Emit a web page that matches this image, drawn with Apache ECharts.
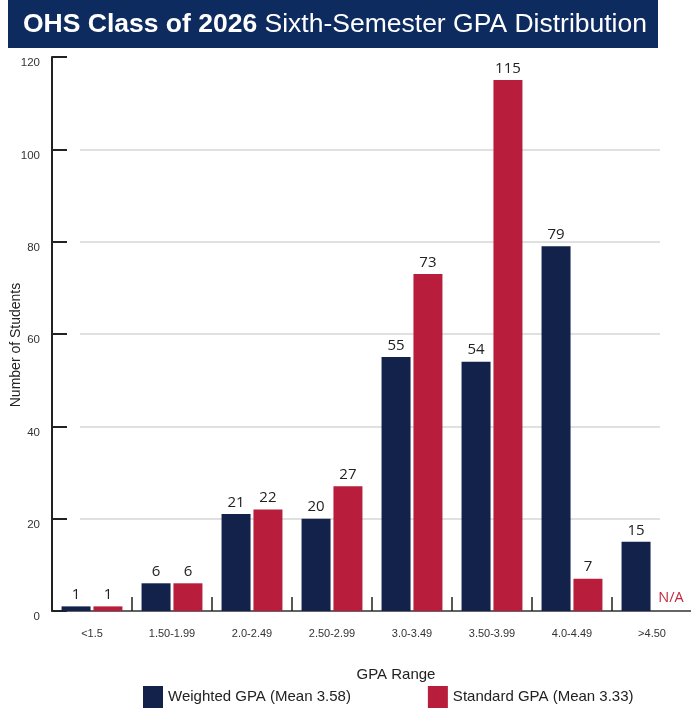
<!DOCTYPE html>
<html lang="en">
<head>
    <meta charset="UTF-8">
    <title>OHS Class of 2026 GPA</title>
    <script src="https://cdn.jsdelivr.net/npm/echarts@6/dist/echarts.min.js"></script>
    <style>
        html, body { margin: 0; padding: 0; background: #fff; }
    </style>
</head>
<body>
<div id="chart" style="width: 691px;height:708px"></div>
<script>
    var chartDom = document.getElementById('chart');
    var myChart = echarts.init(chartDom);

    var categories = ['<1.5', '1.50-1.99', '2.0-2.49', '2.50-2.99', '3.0-3.49', '3.50-3.99', '4.0-4.49', '>4.50'];
    var weighted = [1, 6, 21, 20, 55, 54, 79, 15];
    var standard = [1, 6, 22, 27, 73, 115, 7, 'N/A'];
    var seriesNames = ['Weighted GPA (Mean 3.58)', 'Standard GPA (Mean 3.33)'];
    var colors = ['#13224b', '#b81e3c'];
    var font = 'Liberation Sans, Arial, sans-serif';

    // N/A gets a zero bar with a red text label
    var standardData = standard.map(function (v) {
        if (v === 'N/A') {
            return {
                value: 0,
                label: { formatter: 'N/A', color: '#c0283c', fontSize: 14.5, distance: 6, offset: [3, 0] }
            };
        }
        return v;
    });

    var option = {
        backgroundColor: '#ffffff',
        animation: false,
        graphic: [{
            type: 'rect',
            shape: { x: 8, y: 0, width: 650, height: 48 },
            style: { fill: '#0e2b5f' }
        }],
        title: {
            text: '{b|OHS Class of 2026} Sixth-Semester GPA Distribution',
            left: 23,
            top: 11,
            padding: 0,
            textStyle: {
                color: '#ffffff',
                fontSize: 26.5,
                fontWeight: 'normal',
                fontFamily: font,
                rich: {
                    b: { color: '#ffffff', fontSize: 26.5, fontWeight: 'bold', fontFamily: font }
                }
            }
        },
        legend: {
            left: 143,
            top: 686,
            padding: 0,
            itemWidth: 20,
            itemHeight: 22,
            itemGap: 77,
            icon: 'rect',
            textStyle: { fontSize: 15, color: '#222', fontFamily: font },
            data: seriesNames
        },
        grid: [{
            left: 52,
            right: -1,
            top: 57,
            bottom: 97,
            outerBoundsMode: 'none'
        }, {
            // only for the short grid lines
            left: 80,
            right: 31,
            top: 149.3,
            bottom: 189.3,
            outerBoundsMode: 'none'
        }],
        xAxis: [{
            gridIndex: 0,
            type: 'category',
            data: categories,
            name: 'GPA Range',
            nameLocation: 'middle',
            nameGap: 56,
            nameMoveOverlap: false,
            nameTextStyle: { fontSize: 15, color: '#222', fontFamily: font, padding: [0, 0, 0, 48] },
            axisLine: { lineStyle: { color: '#333', width: 1.5 } },
            axisTick: { show: true, inside: true, length: 14, lineStyle: { color: '#222', width: 1.5 } },
            axisLabel: { fontSize: 11, color: '#333', fontFamily: font, margin: 17 }
        }, {
            gridIndex: 1,
            type: 'value',
            show: false
        }],
        yAxis: [{
            gridIndex: 0,
            type: 'value',
            min: 0,
            max: 120,
            interval: 20,
            name: 'Number of Students',
            nameLocation: 'middle',
            nameGap: 29,
            nameMoveOverlap: false,
            nameTextStyle: { fontSize: 14, color: '#222', fontFamily: font, padding: [0, 22, 0, 0] },
            axisLine: { show: true, lineStyle: { color: '#222', width: 2 } },
            axisTick: { show: true, inside: true, length: 15, lineStyle: { color: '#222', width: 2 } },
            axisLabel: { fontSize: 11.5, color: '#333', fontFamily: font, margin: 12, verticalAlign: 'top' },
            splitLine: { show: false }
        }, {
            gridIndex: 1,
            type: 'value',
            min: 20,
            max: 100,
            interval: 20,
            axisLine: { show: false },
            axisTick: { show: false },
            axisLabel: { show: false },
            splitLine: { show: true, lineStyle: { color: '#d6d6d6', width: 1.5 } }
        }],
        series: [{
            name: seriesNames[0],
            type: 'bar',
            xAxisIndex: 0,
            yAxisIndex: 0,
            barWidth: 29,
            barGap: '10%',
            itemStyle: { color: colors[0] },
            label: {
                show: true,
                position: 'top',
                distance: 4,
                fontSize: 15,
                color: '#222',
                fontFamily: 'Open Sans, sans-serif'
            },
            data: weighted
        }, {
            name: seriesNames[1],
            type: 'bar',
            xAxisIndex: 0,
            yAxisIndex: 0,
            barWidth: 29,
            barGap: '10%',
            itemStyle: { color: colors[1] },
            label: {
                show: true,
                position: 'top',
                distance: 4,
                fontSize: 15,
                color: '#222',
                fontFamily: 'Open Sans, sans-serif'
            },
            data: standardData
        }]
    };

    option && myChart.setOption(option);
</script>
</body>
</html>
